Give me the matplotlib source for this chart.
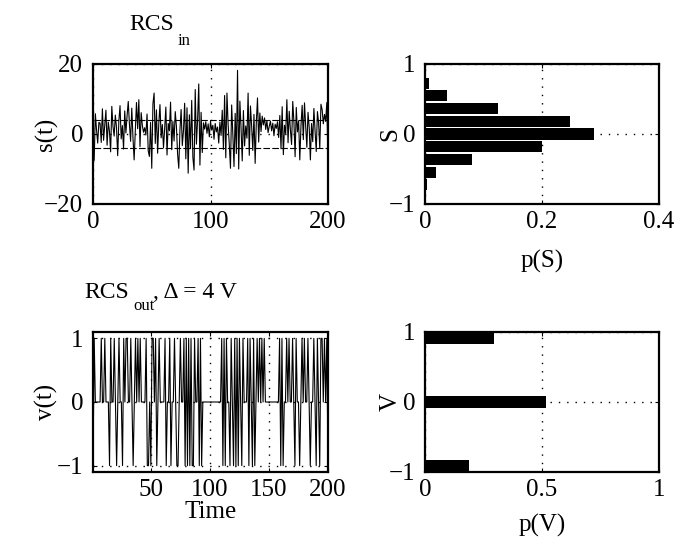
import matplotlib
matplotlib.use("Agg")
import matplotlib.pyplot as plt
import numpy as np

# ---- data ----
time = np.arange(1, 201)

# input signal s(t), 200 samples
s_in = [
    -7.5, 5.8, 1.2, -2.6, 3.3, 3.1, -2.4, 7.2, -1.8, 2.6,
    6.8, -3.2, 3.4, 0.8, -5.1, 7.9, 2.2, -0.6, 5.4, 1.9,
    -6.2, 3.7, 8.1, -1.4, 2.4, -4.3, 6.6, 0.3, 5.2, 9.3,
    2.8, -2.1, 7.4, -0.9, -7.4, 1.1, 9.0, 1.5, 9.8, -3.6,
    6.1, 2.4, 0.5, 1.8, -0.3, 5.7, -4.8, -6.4, 3.3, -9.8,
    8.6, 11.7, -2.7, 6.9, -5.5, 3.0, 8.4, -1.1, 2.7, -3.9,
    1.6, 7.7, -6.0, 3.0, 0.9, 9.1, -4.5, 3.6, -2.0, 6.4,
    2.1, -5.8, -9.8, 1.2, 7.0, -3.3, 1.0, 8.8, -7.1, 7.5,
    -11.2, 5.5, -4.2, 9.6, -6.7, -10.3, 12.7, -2.9, 3.9, 14.3,
    -8.9, 6.2, -5.3, 3.2, 1.4, 3.5, 0.2, 2.9, -0.8, 3.6,
    1.1, 2.5, -1.5, 3.0, 0.6, 2.0, -2.6, 3.4, -0.4, 6.8,
    -4.4, 11.0, -6.8, 11.7, 2.7, -3.1, -9.8, 8.3, 0.0, -9.3,
    5.9, -5.6, 18.2, -10.0, 9.4, 1.7, -7.7, 6.7, -3.4, 2.3,
    -1.2, 11.7, -6.1, 8.0, 2.3, -4.7, 5.6, -8.4, 3.4, 10.3,
    -2.3, 6.0, 0.7, 5.1, 2.6, 4.6, 1.3, 3.8, 0.4, 2.2,
    3.7, 0.9, 3.1, -0.5, 2.8, 1.6, 3.5, -1.0, 5.3, -4.2,
    7.8, -5.9, 2.5, 0.1, 9.8, -2.5, 6.5, 1.2, -3.0, 9.3,
    3.4, -6.5, 7.6, 0.6, 3.8, -7.4, 2.4, 8.2, -1.6, 8.9,
    2.2, -3.8, 6.2, 1.9, -7.4, 3.0, -2.2, 7.3, 0.8, -5.0,
    6.4, 3.3, -4.1, 8.5, 7.0, 2.9, 5.6, 3.6, 9.0, -8.0,
]

# quantised output v(t)
v_out = [
    -1, 1, 0, 0, 0, 0, 0, 1, 0, 0,
    1, 0, 0, 0, -1, 1, 0, 0, 1, 0,
    -1, 0, 1, 0, 0, -1, 1, 0, 1, 1,
    0, 0, 1, 0, -1, 0, 1, 0, 1, 0,
    1, 0, 0, 0, 0, 1, -1, -1, 0, -1,
    1, 1, 0, 1, -1, 0, 1, 0, 0, 0,
    0, 1, -1, 0, 0, 1, -1, 0, 0, 1,
    0, -1, -1, 0, 1, 0, 0, 1, -1, 1,
    -1, 1, -1, 1, -1, -1, 1, 0, 0, 1,
    -1, 1, -1, 0, 0, 0, 0, 0, 0, 0,
    0, 0, 0, 0, 0, 0, 0, 0, 0, 1,
    -1, 1, -1, 1, 0, 0, -1, 1, 0, -1,
    1, -1, 1, -1, 1, 0, -1, 1, 0, 0,
    0, 1, -1, 1, 0, -1, 1, -1, 0, 1,
    0, 1, 0, 1, 0, 1, 0, 0, 0, 0,
    0, 0, 0, 0, 0, 0, 0, 0, 1, -1,
    1, -1, 0, 0, 1, 0, 1, 0, 0, 1,
    0, -1, 1, 0, 0, -1, 0, 1, 0, 1,
    0, 0, 1, 0, -1, 0, 0, 1, 0, -1,
    1, 0, -1, 1, 1, 0, 1, 0, 1, -1,
]

delta = 4  # threshold (V)

# histogram of S (11 bins on [-1, 1])
s_bins = [-0.909, -0.727, -0.545, -0.364, -0.182, 0.0, 0.182, 0.364, 0.545, 0.727, 0.909]
p_s = [0.0, 0.003, 0.019, 0.081, 0.200, 0.289, 0.248, 0.124, 0.037, 0.007, 0.0]

# histogram of V
v_bins = [-0.909, 0.0, 0.909]
p_v = [0.19, 0.515, 0.295]

# ---- style ----
plt.rcParams["font.family"] = ["Liberation Serif", "DejaVu Serif"]
plt.rcParams["font.size"] = 18
plt.rcParams["axes.linewidth"] = 1.6

W, H = 679, 538
fig = plt.figure(figsize=(W / 100, H / 100), dpi=100)


def box(left, top, right, bottom):
    return [left / W, 1 - bottom / H, (right - left) / W, (bottom - top) / H]


ax1 = fig.add_axes(box(93, 64, 328, 204))
ax2 = fig.add_axes(box(425, 64, 659, 204))
ax3 = fig.add_axes(box(93, 332, 328, 472))
ax4 = fig.add_axes(box(425, 332, 659, 472))

grid_kw = dict(color="k", linestyle=(0, (1, 5)), linewidth=1.0)

for ax in (ax1, ax2, ax3, ax4):
    ax.tick_params(direction="in", length=3, width=0.8, top=True, right=True)
    ax.tick_params(axis="x", pad=5)
    ax.tick_params(axis="y", pad=7)
    ax.set_axisbelow(True)
    ax.grid(True, **grid_kw)

# top left: input signal
ax1.plot(time, s_in, color="k", lw=0.8)
ax1.plot([time[0], time[-1]], [delta, delta], color="k", lw=0.8, ls=(0, (6, 2)))
ax1.plot([time[0], time[-1]], [-delta, -delta], color="k", lw=0.8, ls=(0, (6, 2)))
ax1.set_xlim(0, 200)
ax1.set_ylim(-20, 20)
ax1.set_xticks([0, 100, 200])
ax1.set_yticks([-20, 0, 20])
ax1.set_ylabel("s(t)")
ax1.yaxis.set_label_coords(-0.15, 0.5)

# top right: p(S)
ax2.barh(s_bins, p_s, height=0.16, color="k")
ax2.set_xlim(0, 0.4)
ax2.set_ylim(-1, 1)
ax2.set_xticks([0, 0.2, 0.4])
ax2.set_xticklabels(["0", "0.2", "0.4"])
ax2.set_yticks([-1, 0, 1])
ax2.set_ylabel("S")
ax2.yaxis.set_label_coords(-0.1, 0.5)
ax2.set_xlabel("p(S)")
ax2.xaxis.set_label_coords(0.5, -0.33)

# bottom left: output signal
ax3.plot(time, v_out, color="k", lw=0.8)
ax3.set_xlim(1, 200)
ax3.set_ylim(-1.1, 1.1)
ax3.set_xticks([50, 100, 150, 200])
ax3.set_yticks([-1, 0, 1])
ax3.set_ylabel("v(t)")
ax3.yaxis.set_label_coords(-0.15, 0.5)
ax3.set_xlabel("Time")
ax3.xaxis.set_label_coords(0.5, -0.205)

# bottom right: p(V)
ax4.barh(v_bins, p_v, height=0.165, color="k")
ax4.set_xlim(0, 1)
ax4.set_ylim(-1, 1)
ax4.set_xticks([0, 0.5, 1])
ax4.set_xticklabels(["0", "0.5", "1"])
ax4.set_yticks([-1, 0, 1])
ax4.set_ylabel("V")
ax4.yaxis.set_label_coords(-0.1, 0.5)
ax4.set_xlabel("p(V)")
ax4.xaxis.set_label_coords(0.5, -0.3)

# titles (MATLAB style, deep subscripts)
fig.text(174 / W, 1 - 30.5 / H, "RCS", ha="right", va="baseline", fontsize=17)
fig.text(178 / W, 1 - 45 / H, "in", ha="left", va="baseline", fontsize=12)
fig.text(129 / W, 1 - 298 / H, "RCS", ha="right", va="baseline", fontsize=17)
fig.text(133 / W, 1 - 310 / H, "out", ha="left", va="baseline", fontsize=12)
fig.text(153 / W, 1 - 298 / H, ", \u0394 = 4 V", ha="left", va="baseline", fontsize=17)

fig.savefig("out.png", dpi=100)
